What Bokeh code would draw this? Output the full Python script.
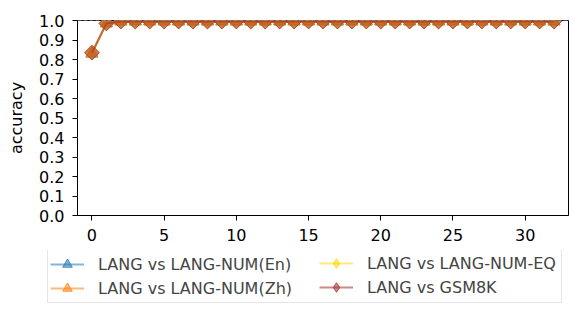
import math
from bokeh.plotting import figure
from bokeh.layouts import column
from bokeh.models import Legend, LegendItem, Span, FixedTicker, PrintfTickFormatter, Range1d
from bokeh.embed import file_html
from bokeh.resources import INLINE

layers = list(range(33))
acc_en = [0.83, 0.985] + [0.995] * 31
acc_zh = [0.83, 0.985] + [0.995] * 31
acc_eq = [0.835, 0.985] + [0.995] * 31
acc_gsm = [0.835, 0.985] + [0.995] * 31

labels = ["LANG vs LANG-NUM(En)", "LANG vs LANG-NUM(Zh)", "LANG vs LANG-NUM-EQ", "LANG vs GSM8K"]
values = [acc_en, acc_zh, acc_eq, acc_gsm]
colors = ["#1f77b4", "#ff7f0e", "#ffd700", "#a52a2a"]
markers = ["triangle", "triangle", "diamond", "diamond"]

FONT = "DejaVu Sans"


def draw_series(fig, xs, ys, color, marker, for_legend=False):
    ln = fig.line(xs, ys, line_color=color, line_width=2, line_alpha=0.55)
    style = dict(fill_color=color, fill_alpha=0.55, line_color=color, line_alpha=0.75, line_width=1)
    if marker == "diamond":
        if for_legend:
            sc = fig.scatter(xs, ys, marker="diamond", size=17, **style)
        else:
            sc = fig.scatter(xs, ys, marker="square", angle=math.pi / 4, size=10.5, **style)
    else:
        sc = fig.scatter(xs, ys, marker="triangle", size=13 if for_legend else 12, **style)
    return ln, sc


p = figure(width=573, height=250, output_backend="svg", toolbar_location=None,
           x_range=Range1d(-1, 33), y_range=Range1d(0, 1.0),
           min_border_left=77, min_border_right=5, min_border_top=20, min_border_bottom=35)
p.frame_align = False
p.grid.visible = False
p.outline_line_color = "black"
p.outline_line_width = 1
p.background_fill_color = "white"

p.add_layout(Span(location=1.0, dimension="width", line_color="#aaaaaa",
                  line_dash="4 2", line_width=1))

for vals, color, marker in zip(values, colors, markers):
    draw_series(p, layers, vals, color, marker)

p.xaxis.ticker = FixedTicker(ticks=[0, 5, 10, 15, 20, 25, 30])
p.yaxis.ticker = FixedTicker(ticks=[i / 10 for i in range(11)])
p.yaxis.formatter = PrintfTickFormatter(format="%.1f")
p.yaxis.axis_label = "accuracy"
for ax in (p.xaxis, p.yaxis):
    ax.major_label_text_font = FONT
    ax.major_label_text_font_size = "16px"
    ax.major_label_text_color = "black"
    ax.axis_label_text_font = FONT
    ax.axis_label_text_font_size = "16px"
    ax.axis_label_text_font_style = "normal"
    ax.axis_label_text_color = "black"
    ax.minor_tick_line_color = None
    ax.major_tick_out = 5
    ax.major_tick_in = 0
    ax.axis_line_color = "black"
    ax.major_tick_line_color = "black"
    ax.major_label_standoff = 8
p.yaxis.axis_label_standoff = 10

# legend strip below the chart (series drawn out of view; only legend visible)
lf = figure(width=573, height=60, output_backend="svg", toolbar_location=None,
            x_range=Range1d(-1, 33), y_range=Range1d(5, 6),
            x_axis_location=None, y_axis_location=None,
            min_border_left=0, min_border_right=0, min_border_top=0, min_border_bottom=0)
lf.frame_align = False
lf.grid.visible = False
lf.outline_line_color = None

items = []
for label, vals, color, marker in zip(labels, values, colors, markers):
    ln, sc = draw_series(lf, layers, vals, color, marker, for_legend=True)
    items.append(LegendItem(label=label, renderers=[ln, sc]))

common = dict(label_text_font=FONT, label_text_font_size="16px",
              glyph_width=34, glyph_height=24, label_height=24, label_standoff=14,
              spacing=0, padding=2, margin=0)

legend_a = Legend(items=items[:2], location=(47, 7), label_width=461,
                  border_line_color="#cccccc", border_line_width=1,
                  background_fill_color="white", background_fill_alpha=1.0, **common)
legend_b = Legend(items=items[2:], location=(319, 11),
                  border_line_color=None, background_fill_alpha=0.0, **common)
lf.add_layout(legend_a, "center")
lf.add_layout(legend_b, "center")

layout = column(p, lf, spacing=0)
open("out.html", "w").write(file_html(layout, INLINE))
